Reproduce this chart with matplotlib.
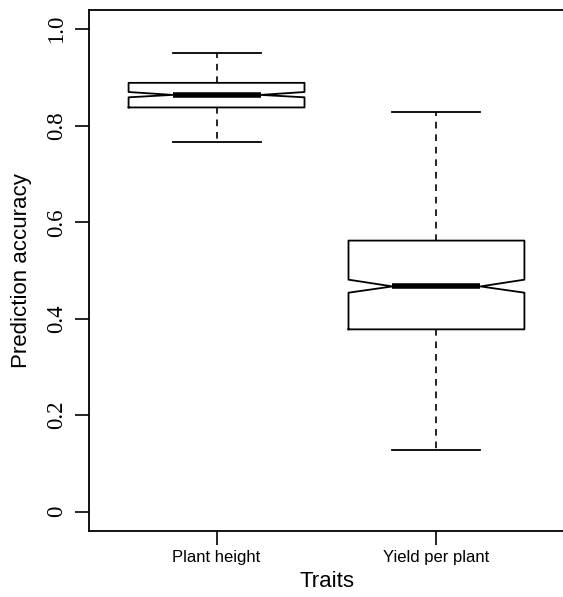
import matplotlib
matplotlib.use("Agg")
import matplotlib.pyplot as plt

# values
traits = ["Plant height", "Yield per plant"]
whisker_low = [0.766, 0.127]
q1 = [0.838, 0.378]
median = [0.864, 0.467]
q3 = [0.889, 0.562]
whisker_high = [0.950, 0.828]
notch_low = [0.859, 0.454]
notch_high = [0.870, 0.481]

ytick_vals = [0, 0.2, 0.4, 0.6, 0.8, 1.0]
ytick_labels = ["0", "0.2", "0.4", "0.6", "0.8", "1.0"]

stats = []
for i, t in enumerate(traits):
    stats.append(dict(label=t, whislo=whisker_low[i], q1=q1[i], med=median[i],
                      q3=q3[i], whishi=whisker_high[i],
                      cilo=notch_low[i], cihi=notch_high[i], fliers=[]))

fig = plt.figure(figsize=(5.63, 5.97), dpi=100)
ax = fig.add_axes([89 / 563, 66 / 597, 475 / 563, 521 / 597])

ax.bxp(stats, positions=[1, 2], widths=0.8, shownotches=True, capwidths=0.4,
       showfliers=False,
       boxprops=dict(color="black", linewidth=1.3),
       medianprops=dict(color="black", linewidth=4, solid_capstyle="butt"),
       whiskerprops=dict(color="black", linewidth=1.2, linestyle=(0, (4, 3.5))),
       capprops=dict(color="black", linewidth=1.3))

ax.set_xlim(0.42, 2.58)
ax.set_ylim(-0.04, 1.04)
ax.spines["right"].set_visible(False)
for s in ["left", "bottom", "top"]:
    ax.spines[s].set_linewidth(1.3)

ax.set_yticks(ytick_vals)
ax.set_yticklabels(ytick_labels, rotation=90, va="center",
                   family="Liberation Serif", fontsize=16.5)
ax.set_xticks([1, 2])
ax.set_xticklabels(traits, family="Liberation Sans", fontsize=12)
ax.tick_params(axis="both", length=10, width=1.2, color="black")
ax.tick_params(axis="y", pad=6)
ax.tick_params(axis="x", pad=4)

ax.set_xlabel("Traits", family="Liberation Sans", fontsize=16, labelpad=4)
ax.set_ylabel("Prediction accuracy", family="Liberation Sans", fontsize=16, labelpad=10)

fig.savefig("out.png", dpi=100)
